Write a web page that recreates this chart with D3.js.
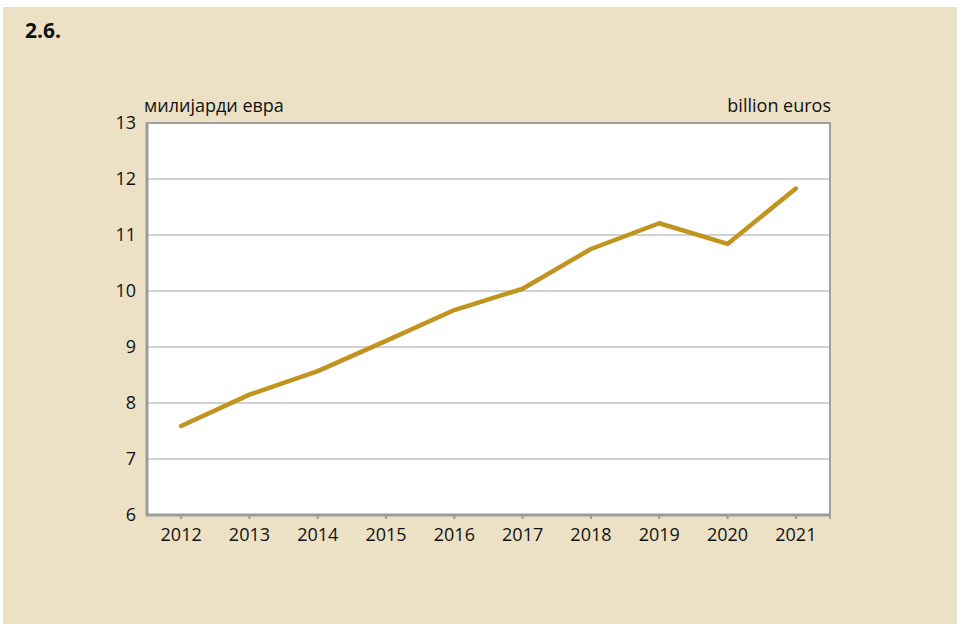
<!DOCTYPE html>
<html>
<head>
<meta charset="utf-8">
<script src="https://cdn.jsdelivr.net/npm/d3@7"></script>
<style>
  html, body { margin: 0; padding: 0; background: #ffffff; }
  svg { display: block; }
  text { font-family: "Open Sans", "Noto Sans", sans-serif; fill: #111; }
</style>
</head>
<body>
<svg id="chart" width="957" height="624"></svg>
<script>
// Annual values, billion euros
const years = ["2012", "2013", "2014", "2015", "2016", "2017", "2018", "2019", "2020", "2021"];
const values = [7.59, 8.15, 8.57, 9.11, 9.66, 10.04, 10.75, 11.21, 10.84, 11.83];
const yTicks = [6, 7, 8, 9, 10, 11, 12, 13];

const svg = d3.select("#chart");
const W = 957, H = 624;

// Panel background
svg.append("rect").attr("x", 3).attr("y", 7).attr("width", W - 3).attr("height", H - 7)
  .attr("fill", "#ECE1C5");

svg.append("text").attr("x", 25).attr("y", 38)
  .attr("font-size", 21).attr("font-weight", "bold").text("2.6.");

const plot = { left: 147, right: 830, top: 123, bottom: 515 };

const x = d3.scaleBand().domain(years).range([plot.left, plot.right]);
const y = d3.scaleLinear().domain([6, 13]).range([plot.bottom, plot.top]);

// Plot area
svg.append("rect")
  .attr("x", plot.left).attr("y", plot.top)
  .attr("width", plot.right - plot.left).attr("height", plot.bottom - plot.top)
  .attr("fill", "#ffffff").attr("stroke", "#A0A0A0").attr("stroke-width", 2);

// Horizontal gridlines
svg.append("g").selectAll("line")
  .data(yTicks.filter(d => d > 6 && d < 13))
  .join("line")
  .attr("x1", plot.left).attr("x2", plot.right)
  .attr("y1", d => y(d)).attr("y2", d => y(d))
  .attr("stroke", "#A3A3A3").attr("stroke-width", 1);

// Left and bottom axis lines
svg.append("line").attr("x1", plot.left).attr("x2", plot.left)
  .attr("y1", plot.top).attr("y2", plot.bottom + 1)
  .attr("stroke", "#9C9C9C").attr("stroke-width", 3);
svg.append("line").attr("x1", plot.left - 1).attr("x2", plot.right + 1)
  .attr("y1", plot.bottom).attr("y2", plot.bottom)
  .attr("stroke", "#9C9C9C").attr("stroke-width", 3);

// Y axis labels
svg.append("g").selectAll("text")
  .data(yTicks)
  .join("text")
  .attr("x", plot.left - 11)
  .attr("y", d => y(d))
  .attr("dy", "0.35em")
  .attr("text-anchor", "end")
  .attr("font-size", 18)
  .text(d => d);

// X axis ticks and labels
const xTickG = svg.append("g");
xTickG.selectAll("line")
  .data(years)
  .join("line")
  .attr("x1", d => x(d) + x.bandwidth() / 2).attr("x2", d => x(d) + x.bandwidth() / 2)
  .attr("y1", plot.bottom).attr("y2", plot.bottom + 4)
  .attr("stroke", "#9C9C9C").attr("stroke-width", 2);
svg.append("line").attr("x1", plot.right).attr("x2", plot.right)
  .attr("y1", plot.bottom).attr("y2", plot.bottom + 4)
  .attr("stroke", "#9C9C9C").attr("stroke-width", 2);
xTickG.selectAll("text")
  .data(years)
  .join("text")
  .attr("x", d => x(d) + x.bandwidth() / 2)
  .attr("y", plot.bottom + 26)
  .attr("text-anchor", "middle")
  .attr("font-size", 18)
  .text(d => d);

// Unit labels
svg.append("text").attr("x", 144).attr("y", 112)
  .attr("font-size", 18).text("милијарди евра");
svg.append("text").attr("x", 831).attr("y", 112)
  .attr("text-anchor", "end").attr("font-size", 18).text("billion euros");

// Series line
const line = d3.line()
  .x((d, i) => x(years[i]) + x.bandwidth() / 2)
  .y(d => y(d));
svg.append("path")
  .datum(values)
  .attr("d", line)
  .attr("fill", "none")
  .attr("stroke", "#C0941F")
  .attr("stroke-width", 4.5)
  .attr("stroke-linejoin", "round")
  .attr("stroke-linecap", "round");
</script>
</body>
</html>
